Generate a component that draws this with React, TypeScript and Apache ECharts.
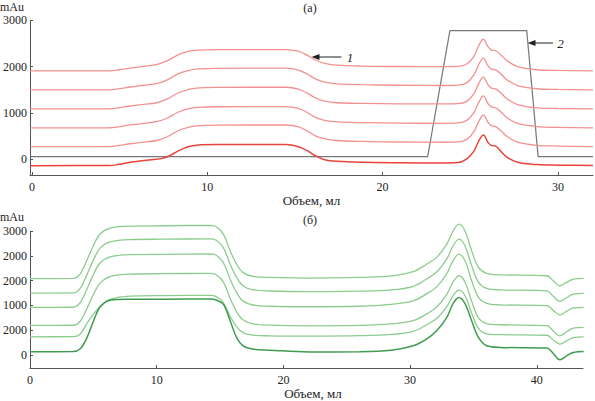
import React, { useEffect, useRef } from "react";
import * as echarts from "echarts";

// ---- Panel (а): red chromatograms + grey gradient ----
const redX = [-0.1, 4.4, 5.0, 5.6, 6.4, 7.1, 7.7, 8.3, 8.9, 9.5, 10.5, 14.5, 15.2, 15.7, 16.2, 16.7, 17.4, 18.8, 21, 23.5, 24.3, 24.8, 25.2, 25.5, 25.75, 26.0, 26.2, 26.45, 26.75, 27.1, 27.7, 28.8, 30, 32];
const red0 = [-138, -136, -110, -65, -25, 0, 50, 170, 270, 310, 320, 320, 270, 185, 70, -10, -45, -65, -75, -80, -72, 10, 170, 410, 525, 370, 300, 285, 170, 40, -65, -115, -128, -135];
const red1 = [272, 274, 300, 335, 370, 405, 480, 610, 690, 725, 738, 740, 700, 610, 500, 440, 405, 385, 372, 367, 375, 430, 590, 830, 957, 800, 725, 705, 615, 490, 370, 300, 285, 272];
const red2 = [676, 678, 705, 740, 775, 810, 885, 1010, 1090, 1122, 1134, 1136, 1098, 1010, 900, 840, 805, 790, 780, 776, 784, 840, 1000, 1240, 1367, 1210, 1130, 1112, 1022, 895, 775, 705, 688, 676];
const red3 = [1086, 1088, 1115, 1150, 1185, 1220, 1297, 1425, 1505, 1540, 1552, 1555, 1515, 1428, 1318, 1255, 1220, 1205, 1196, 1194, 1200, 1250, 1410, 1650, 1771, 1615, 1535, 1518, 1428, 1302, 1180, 1110, 1096, 1086];
const red4 = [1497, 1499, 1525, 1560, 1598, 1632, 1710, 1836, 1916, 1950, 1962, 1966, 1926, 1840, 1730, 1665, 1628, 1610, 1598, 1592, 1600, 1650, 1815, 2060, 2182, 2025, 1945, 1930, 1840, 1712, 1590, 1522, 1507, 1497];
const red5 = [1907, 1909, 1932, 1967, 2007, 2042, 2122, 2247, 2327, 2357, 2369, 2369, 2332, 2247, 2137, 2072, 2032, 2012, 2002, 2000, 2007, 2057, 2217, 2467, 2592, 2437, 2357, 2342, 2252, 2127, 2002, 1932, 1917, 1907];
const gradX = [-0.1, 22.57, 23.84, 28.22, 28.87, 32];
const gradY = [56, 56, 2778, 2778, 56, 56];
const topXTicks = [0, 10, 20, 30];
const topYTicks = [0, 1000, 2000, 3000];

// ---- Panel (б): green chromatograms ----
const greenX = [0, 3.4, 3.95, 4.47, 5.0, 5.53, 6.32, 7.9, 10.5, 14.2, 14.7, 15.26, 15.8, 16.3, 16.8, 17.6, 18.9, 22, 26, 28.5, 30.25, 31.3, 32.1, 32.9, 33.4, 33.86, 34.33, 34.86, 35.4, 36.05, 37.1, 40.8, 41.3, 41.83, 42.36, 42.88, 43.7];
const green0 = [73, 78, 140, 400, 810, 1160, 1325, 1350, 1352, 1354, 1330, 1230, 826, 423, 225, 139, 114, 70, 75, 110, 219, 382, 583, 909, 1249, 1395, 1249, 826, 423, 219, 180, 163, 34, -121, -24, 58, 83];
const green1 = [437, 442, 500, 750, 990, 1170, 1345, 1425, 1438, 1443, 1415, 1270, 930, 690, 540, 480, 462, 455, 465, 495, 570, 730, 880, 1170, 1440, 1572, 1440, 1010, 640, 510, 490, 475, 360, 260, 340, 420, 437];
const green2 = [714, 718, 810, 1110, 1460, 1740, 1900, 1960, 1970, 1978, 1945, 1770, 1370, 1050, 850, 750, 720, 705, 715, 750, 830, 990, 1160, 1470, 1770, 1920, 1770, 1300, 900, 760, 730, 710, 580, 462, 560, 650, 666];
const green3 = [1152, 1156, 1262, 1580, 1945, 2230, 2380, 2435, 2442, 2450, 2418, 2240, 1835, 1515, 1310, 1210, 1180, 1168, 1180, 1225, 1310, 1480, 1650, 1970, 2290, 2447, 2290, 1800, 1395, 1250, 1215, 1195, 1080, 972, 1060, 1140, 1152];
const green4 = [1499, 1503, 1610, 1930, 2300, 2590, 2745, 2800, 2808, 2815, 2782, 2605, 2200, 1880, 1680, 1580, 1550, 1535, 1545, 1575, 1665, 1840, 2010, 2330, 2650, 2812, 2650, 2165, 1760, 1612, 1578, 1555, 1420, 1298, 1385, 1475, 1492];
const green5 = [1850, 1855, 1961, 2284, 2649, 2933, 3079, 3127, 3135, 3143, 3110, 2933, 2527, 2204, 2002, 1905, 1881, 1865, 1880, 1915, 2020, 2200, 2367, 2690, 3013, 3176, 3013, 2527, 2124, 1978, 1944, 1920, 1798, 1677, 1759, 1839, 1857];
const bottomXTicks = [0, 10, 20, 30, 40];
const bottomYTicks = [0, 600, 1200, 1800, 2400, 3000];
const bottomYLabels = ["0", "2000", "1000", "2000", "2000", "3000"];

const FONT = "Liberation Serif";
const TXT = "#222";
const AX = "#555";

function pairs(xs: number[], ys: number[]) {
  return xs.map((x, i) => [x, ys[i]]);
}

function lineSeries(xs: number[], ys: number[], color: string, width: number, idx: number, smooth: boolean | number = 0.35) {
  return {
    type: "line",
    xAxisIndex: idx,
    yAxisIndex: idx,
    data: pairs(xs, ys),
    showSymbol: false,
    symbol: "none",
    smooth,
    clip: false,
    lineStyle: { color, width },
    emphasis: { disabled: true },
    silent: true,
  };
}

function xAxisCfg(idx: number, min: number, max: number, ticks: number[], nameGap: number, padLeft: number) {
  return {
    type: "value",
    gridIndex: idx,
    min,
    max,
    name: "Объем, мл",
    nameLocation: "middle",
    nameGap,
    nameTextStyle: { fontFamily: FONT, fontSize: 13, color: TXT, padding: [0, 0, 0, padLeft] },
    axisLine: { show: true, onZero: false, lineStyle: { color: AX, width: 1 } },
    axisTick: { show: true, inside: true, length: 3, customValues: ticks, lineStyle: { color: AX } },
    axisLabel: { show: true, customValues: ticks, margin: 6, fontFamily: FONT, fontSize: 12, color: TXT },
    splitLine: { show: false },
  };
}

function yAxisCfg(idx: number, min: number, max: number, ticks: number[], formatter?: (v: number) => string) {
  return {
    type: "value",
    gridIndex: idx,
    min,
    max,
    axisLine: { show: true, onZero: false, lineStyle: { color: AX, width: 1 } },
    axisTick: { show: true, inside: true, length: 3, customValues: ticks, lineStyle: { color: AX } },
    axisLabel: {
      show: true,
      customValues: ticks,
      margin: 3,
      fontFamily: FONT,
      fontSize: 12,
      color: TXT,
      formatter: formatter ? formatter : (v: number) => String(v),
    },
    splitLine: { show: false },
  };
}

function arrow(tailX: number, tipX: number, y: number) {
  return [
    { type: "line", shape: { x1: tailX, y1: y, x2: tipX + 6, y2: y }, style: { stroke: "#222", lineWidth: 1 } },
    { type: "polygon", shape: { points: [[tipX, y], [tipX + 8, y - 3], [tipX + 8, y + 3]] }, style: { fill: "#222" } },
  ];
}

export default function App() {
  const ref = useRef<HTMLDivElement>(null);
  useEffect(() => {
    if (!ref.current) return;
    const chart = echarts.init(ref.current, undefined, { renderer: "svg" });
    const lightRed = "#f39191";
    const darkRed = "#e9443c";
    const lightGreen = "#8dcc8e";
    const darkGreen = "#3f9c50";
    chart.setOption({
      animation: false,
      backgroundColor: "#ffffff",
      grid: [
        { left: 30, top: 20.3, width: 563, height: 154.7, containLabel: false },
        { left: 30, top: 231.3, width: 553, height: 137.7, containLabel: false },
      ],
      xAxis: [xAxisCfg(0, -0.11, 32, topXTicks, 16, 0), xAxisCfg(1, 0, 43.65, bottomXTicks, 19, 13)],
      yAxis: [
        yAxisCfg(0, -340, 3000, topYTicks),
        yAxisCfg(1, -320, 3000, bottomYTicks, (v: number) => {
          const i = bottomYTicks.indexOf(v);
          return i >= 0 ? bottomYLabels[i] : "";
        }),
      ],
      series: [
        lineSeries(gradX, gradY, "#777777", 1.2, 0, false),
        lineSeries(redX, red5, lightRed, 1.3, 0),
        lineSeries(redX, red4, lightRed, 1.3, 0),
        lineSeries(redX, red3, lightRed, 1.3, 0),
        lineSeries(redX, red2, lightRed, 1.3, 0),
        lineSeries(redX, red1, lightRed, 1.3, 0),
        lineSeries(redX, red0, darkRed, 1.5, 0),
        lineSeries(greenX, green5, lightGreen, 1.3, 1),
        lineSeries(greenX, green4, lightGreen, 1.3, 1),
        lineSeries(greenX, green3, lightGreen, 1.3, 1),
        lineSeries(greenX, green2, lightGreen, 1.3, 1),
        lineSeries(greenX, green1, lightGreen, 1.3, 1),
        lineSeries(greenX, green0, darkGreen, 1.5, 1),
      ],
      graphic: [
        { type: "text", left: 0, top: 1, style: { text: "mAu", fontFamily: FONT, fontSize: 12, lineHeight: 12, fill: TXT } },
        { type: "text", left: 0, top: 211, style: { text: "mAu", fontFamily: FONT, fontSize: 12, lineHeight: 12, fill: TXT } },
        { type: "text", x: 310, y: 7.5, style: { text: "(а)", fontFamily: FONT, fontSize: 12, fill: TXT, align: "center", verticalAlign: "middle" } },
        { type: "text", x: 310, y: 219.5, style: { text: "(б)", fontFamily: FONT, fontSize: 12, fill: TXT, align: "center", verticalAlign: "middle" } },
        ...arrow(341.5, 311.5, 57),
        { type: "text", x: 350, y: 57, style: { text: "1", fontFamily: FONT, fontSize: 13, fontStyle: "italic", fill: TXT, align: "center", verticalAlign: "middle" } },
        ...arrow(553, 527.5, 43),
        { type: "text", x: 560.5, y: 43, style: { text: "2", fontFamily: FONT, fontSize: 13, fontStyle: "italic", fill: TXT, align: "center", verticalAlign: "middle" } },
      ],
    });
    return () => chart.dispose();
  }, []);
  return <div ref={ref} style={{ position: "fixed", left: 0, top: 0, width: 595, height: 401, background: "#fff" }} />;
}
